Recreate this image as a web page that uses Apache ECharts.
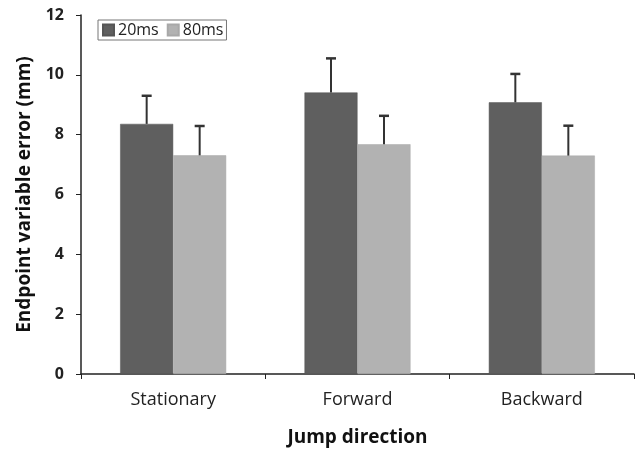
<!DOCTYPE html>
<html>
<head>
<meta charset="utf-8">
<script src="https://cdn.jsdelivr.net/npm/echarts@6/dist/echarts.min.js"></script>
<style>
  html, body { margin: 0; padding: 0; background: #fff; }
  #chart { width: 637px; height: 450px; }
</style>
</head>
<body>
<div id="chart"></div>
<script>
// data
var categories = ['Stationary', 'Forward', 'Backward'];
var seriesNames = ['20ms', '80ms'];
var means20 = [8.36, 9.41, 9.08];
var means80 = [7.31, 7.68, 7.30];
var upper20 = [9.30, 10.55, 10.03];
var upper80 = [8.29, 8.63, 8.30];
var yTicks = [0, 2, 4, 6, 8, 10, 12];

var FONT = 'Open Sans';
var BAR_W = 53;

var chart = echarts.init(document.getElementById('chart'));

// error bar as custom series, shifted half a bar from the category centre
function errorSeries(name, means, uppers, shift) {
  var data = means.map(function (m, i) { return [i, m, uppers[i]]; });
  return {
    name: name + ' err',
    type: 'custom',
    data: data,
    z: 5,
    renderItem: function (params, api) {
      var base = api.coord([api.value(0), api.value(1)]);
      var top = api.coord([api.value(0), api.value(2)]);
      var x = base[0] + shift;
      return {
        type: 'group',
        children: [
          { type: 'line', shape: { x1: x, y1: base[1], x2: x, y2: top[1] },
            style: { stroke: '#333', lineWidth: 2 } },
          { type: 'line', shape: { x1: x - 5, y1: top[1], x2: x + 5, y2: top[1] },
            style: { stroke: '#333', lineWidth: 2.5 } }
        ]
      };
    }
  };
}

var option = {
  animation: false,
  backgroundColor: '#fff',
  textStyle: { fontFamily: FONT },
  grid: { left: 81, right: 3, top: 15, bottom: 76, outerBoundsMode: 'none', containLabel: false },
  legend: {
    data: seriesNames,
    left: 98,
    top: 20,
    icon: 'rect',
    itemWidth: 11,
    itemHeight: 11,
    itemGap: 8,
    padding: [2, 3, 2, 4],
    borderColor: '#777',
    borderWidth: 1,
    textStyle: { fontFamily: FONT, fontSize: 16, color: '#222', padding: [0, 0, 0, -1] }
  },
  xAxis: {
    type: 'category',
    data: categories,
    name: 'Jump direction',
    nameLocation: 'middle',
    nameGap: 54,
    nameTextStyle: { fontFamily: FONT, fontSize: 19, fontWeight: 'bold', color: '#111' },
    axisLine: { lineStyle: { color: '#222', width: 1.5 } },
    axisTick: { show: true, length: 5, lineStyle: { color: '#222' } },
    axisLabel: { fontFamily: FONT, fontSize: 18, color: '#222', margin: 17 }
  },
  yAxis: {
    type: 'value',
    min: 0,
    max: 12,
    interval: 2,
    name: 'Endpoint variable error (mm)',
    nameLocation: 'middle',
    nameGap: 47,
    nameTextStyle: { fontFamily: FONT, fontSize: 19, fontWeight: 'bold', color: '#111' },
    axisLine: { show: true, lineStyle: { color: '#222', width: 1.5 } },
    axisTick: { show: true, length: 5, lineStyle: { color: '#222' } },
    splitLine: { show: false },
    axisLabel: {
      fontFamily: FONT, fontSize: 16, fontWeight: 'bold', color: '#222', margin: 17,
      formatter: function (v) { return yTicks.indexOf(v) >= 0 ? String(v) : ''; }
    }
  },
  series: [
    {
      name: seriesNames[0], type: 'bar', data: means20,
      barWidth: BAR_W, barGap: '0%',
      itemStyle: { color: '#5f5f5f', borderColor: '#555', borderWidth: 0.5 }
    },
    {
      name: seriesNames[1], type: 'bar', data: means80,
      barWidth: BAR_W, barGap: '0%',
      itemStyle: { color: '#b2b2b2', borderColor: '#a8a8a8', borderWidth: 0.5 }
    },
    errorSeries(seriesNames[0], means20, upper20, -BAR_W / 2),
    errorSeries(seriesNames[1], means80, upper80, BAR_W / 2)
  ]
};

chart.setOption(option);
</script>
</body>
</html>
